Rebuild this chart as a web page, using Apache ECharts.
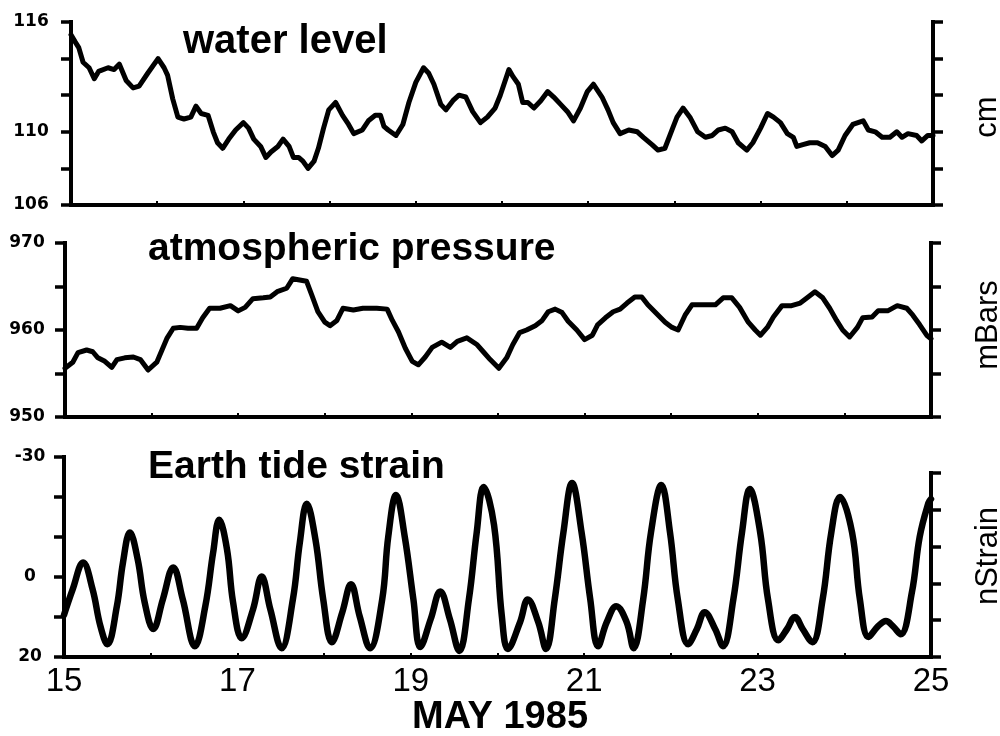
<!DOCTYPE html>
<html>
<head>
<meta charset="utf-8">
<script src="https://cdn.jsdelivr.net/npm/echarts@6/dist/echarts.min.js"></script>
<style>
html,body{margin:0;padding:0;background:#fff;}
#chart{width:1000px;height:736px;}
</style>
</head>
<body>
<div id="chart"></div>
<script>
// ---- data (day of May 1985, value) ----
const waterDays = [15.00,15.05,15.09,15.14,15.21,15.27,15.32,15.43,15.50,15.56,
15.64,15.72,15.79,15.89,16.01,16.08,16.12,16.18,16.24,16.31,
16.39,16.45,16.51,16.59,16.65,16.70,16.76,16.83,16.91,17.00,
17.06,17.12,17.20,17.26,17.32,17.40,17.46,17.53,17.58,17.64,
17.69,17.75,17.82,17.87,17.93,17.99,18.07,18.15,18.22,18.28,
18.38,18.45,18.53,18.59,18.63,18.68,18.77,18.85,18.92,19.00,
19.09,19.15,19.21,19.29,19.35,19.43,19.50,19.58,19.66,19.75,
19.83,19.92,19.98,20.08,20.13,20.19,20.24,20.30,20.37,20.45,
20.53,20.60,20.68,20.76,20.83,20.91,20.99,21.06,21.16,21.23,
21.29,21.37,21.47,21.57,21.64,21.74,21.81,21.89,21.98,22.03,
22.10,22.18,22.27,22.36,22.44,22.51,22.59,22.67,22.74,22.84,
22.91,23.00,23.08,23.15,23.23,23.31,23.38,23.42,23.49,23.57,
23.66,23.75,23.83,23.90,23.98,24.07,24.19,24.25,24.33,24.41,
24.50,24.58,24.64,24.71,24.81,24.87,24.94,25.00];
const waterLevel = [115.3,114.9,114.6,113.8,113.5,112.9,113.3,113.5,113.4,113.7,
112.8,112.4,112.5,113.2,114.0,113.5,113.1,111.8,110.8,110.7,
110.8,111.4,111.0,110.9,110.0,109.4,109.1,109.6,110.1,110.5,
110.2,109.6,109.2,108.6,108.9,109.2,109.6,109.2,108.6,108.6,
108.4,108.0,108.4,109.1,110.2,111.2,111.6,110.9,110.4,109.9,
110.1,110.6,110.9,110.9,110.3,110.1,109.8,110.4,111.6,112.7,
113.5,113.2,112.6,111.5,111.2,111.7,112.0,111.9,111.1,110.5,
110.8,111.3,112.0,113.4,113.0,112.6,111.6,111.6,111.3,111.7,
112.2,111.9,111.5,111.1,110.6,111.3,112.2,112.6,111.9,111.2,
110.5,109.9,110.1,110.0,109.7,109.3,109.0,109.1,110.2,110.8,
111.3,110.8,110.0,109.7,109.8,110.1,110.2,110.0,109.4,109.0,
109.4,110.2,111.0,110.8,110.5,109.9,109.7,109.2,109.3,109.4,
109.4,109.2,108.7,109.0,109.8,110.4,110.6,110.1,110.0,109.7,
109.7,110.0,109.7,109.9,109.8,109.5,109.8,109.8];

const pressureDays = [15.00,15.09,15.15,15.25,15.32,15.38,15.46,15.54,15.60,15.69,
15.79,15.87,15.96,16.06,16.12,16.18,16.25,16.33,16.42,16.52,
16.59,16.67,16.79,16.91,17.00,17.08,17.17,17.29,17.37,17.45,
17.56,17.63,17.79,17.85,17.92,18.00,18.06,18.14,18.21,18.33,
18.44,18.60,18.72,18.78,18.85,18.93,19.01,19.08,19.16,19.24,
19.35,19.45,19.53,19.64,19.76,19.83,19.91,20.01,20.10,20.17,
20.25,20.33,20.43,20.51,20.58,20.66,20.74,20.81,20.91,21.00,
21.09,21.15,21.24,21.33,21.41,21.49,21.58,21.66,21.73,21.85,
21.93,22.01,22.08,22.16,22.24,22.36,22.51,22.60,22.70,22.79,
22.89,22.97,23.03,23.11,23.18,23.28,23.39,23.49,23.57,23.66,
23.75,23.83,23.91,23.98,24.06,24.15,24.21,24.32,24.39,24.50,
24.61,24.72,24.79,24.87,24.95,25.00];
const pressure = [955.6,956.3,957.4,957.7,957.5,956.8,956.4,955.7,956.6,956.8,
956.9,956.6,955.4,956.3,957.7,959.1,960.2,960.3,960.2,960.2,
961.4,962.5,962.5,962.8,962.2,962.6,963.6,963.7,963.8,964.4,
964.8,965.9,965.6,964.0,962.1,960.9,960.5,961.1,962.5,962.3,
962.5,962.5,962.4,961.1,959.8,957.9,956.4,956.0,956.9,958.0,
958.6,958.0,958.7,959.1,958.3,957.5,956.6,955.6,956.8,958.3,
959.7,960.0,960.5,961.1,962.1,962.4,962.0,961.0,960.0,958.9,
959.4,960.6,961.4,962.1,962.4,963.1,963.8,963.8,962.9,961.7,
960.9,960.3,960.0,961.7,962.9,962.9,962.9,963.7,963.7,962.6,
960.9,960.0,959.4,960.3,961.5,962.8,962.8,963.1,963.7,964.4,
963.7,962.5,961.1,960.0,959.2,960.3,961.4,961.5,962.2,962.2,
962.8,962.5,961.7,960.6,959.4,959.0];

const strainDays = [15.00,15.10,15.22,15.33,15.42,15.50,15.61,15.68,15.76,15.85,
15.93,16.03,16.14,16.26,16.37,16.51,16.63,16.72,16.79,16.88,
16.95,17.05,17.18,17.28,17.38,17.51,17.64,17.72,17.80,17.90,
17.99,18.09,18.21,18.31,18.41,18.53,18.67,18.74,18.83,18.93,
19.03,19.11,19.23,19.34,19.45,19.56,19.67,19.76,19.84,19.96,
20.05,20.12,20.26,20.35,20.47,20.56,20.66,20.76,20.86,20.97,
21.07,21.16,21.26,21.37,21.49,21.57,21.68,21.77,21.89,21.99,
22.08,22.20,22.30,22.39,22.51,22.60,22.72,22.82,22.91,23.03,
23.12,23.24,23.34,23.43,23.52,23.63,23.75,23.85,23.95,24.09,
24.18,24.28,24.39,24.48,24.56,24.65,24.78,24.87,24.97,25.00];
const strain = [9.5,3.1,-3.6,3.1,12.3,16.8,7.3,-3.6,-11.1,-4.4,
6.3,13.0,5.6,-2.4,5.6,17.3,7.3,-6.1,-14.3,-6.9,
6.3,15.3,8.1,-0.1,8.1,17.8,5.6,-8.6,-18.3,-9.4,
5.6,16.3,8.8,1.8,9.8,17.8,5.6,-10.1,-20.5,-10.1,
5.6,17.5,10.5,3.6,10.5,18.5,5.6,-11.1,-22.5,-13.0,
9.8,18.0,11.3,5.6,11.3,18.0,5.6,-11.1,-23.5,-11.1,
5.6,17.3,11.3,7.3,11.3,17.8,5.6,-11.1,-23.0,-11.1,
5.6,16.8,13.0,8.8,13.0,17.3,5.6,-11.1,-22.0,-11.1,
5.6,15.8,13.0,10.0,13.0,16.3,5.6,-11.1,-20.0,-11.1,
5.6,15.0,12.3,11.0,12.3,14.3,3.8,-10.1,-18.5,-19.5];

const dayTicks = [15,17,19,21,23,25];
const waterLabels = [116,110,106];
const pressureLabels = [970,960,950];
const strainLabels = [-30,0,20];

const zip = (a, b) => a.map((d, i) => [d, b[i]]);
const FONT = '"Liberation Sans", Arial, Helvetica, sans-serif';

function xAxis(gi, showLabels) {
  return {
    type: 'value', gridIndex: gi, min: 15, max: 25, interval: 1,
    axisLine: { onZero: false, lineStyle: { color: '#000', width: 4, cap: 'square' } },
    axisTick: { show: true, inside: true, length: 4, lineStyle: { color: '#000', width: 2 } },
    splitLine: { show: false },
    axisLabel: {
      show: showLabels, margin: 8, color: '#000', fontSize: 33, fontFamily: FONT,
      formatter: v => dayTicks.indexOf(v) >= 0 ? String(v) : ''
    }
  };
}
function yAxisLeft(gi, min, max, interval, labels, margin, inverse) {
  return {
    type: 'value', gridIndex: gi, min: min, max: max, interval: interval, inverse: !!inverse,
    position: 'left',
    axisLine: { show: true, onZero: false, lineStyle: { color: '#000', width: 4, cap: 'square' } },
    axisTick: { show: true, inside: false, length: 10, lineStyle: { color: '#000', width: 3.5 } },
    splitLine: { show: false },
    axisLabel: {
      show: true, margin: margin, align: 'center', color: '#000', fontSize: 17, fontWeight: 'bold',
      fontFamily: '"DejaVu Sans", sans-serif',
      formatter: v => labels.indexOf(v) >= 0 ? String(v) : ''
    }
  };
}
function yAxisRight(gi, min, max, interval) {
  return {
    type: 'value', gridIndex: gi, min: min, max: max, interval: interval,
    position: 'right',
    axisLine: { show: true, onZero: false, lineStyle: { color: '#000', width: 4, cap: 'square' } },
    axisTick: { show: true, inside: false, length: 10, lineStyle: { color: '#000', width: 3.5 } },
    splitLine: { show: false },
    axisLabel: { show: false }
  };
}

const chart = echarts.init(document.getElementById('chart'), null, { renderer: 'canvas' });
const option = {
  animation: false,
  backgroundColor: '#fff',
  grid: [
    { left: 71, top: 22, width: 862, height: 183 },
    { left: 65, top: 243, width: 866, height: 174 },
    { left: 64, top: 457, width: 867, height: 200 },
    { left: 64, top: 473, width: 867, height: 184 }
  ],
  xAxis: [
    xAxis(0, false),
    xAxis(1, false),
    xAxis(2, true),
    Object.assign(xAxis(3, false), { show: false })
  ],
  yAxis: [
    yAxisLeft(0, 106, 116, 2, waterLabels, 40),
    yAxisRight(0, 106, 116, 2),
    yAxisLeft(1, 950, 970, 5, pressureLabels, 38),
    yAxisRight(1, 950, 970, 5),
    yAxisLeft(2, -30, 20, 10, strainLabels, 34, true),
    yAxisRight(3, 0, 5, 1)
  ],
  series: [
    { type: 'line', xAxisIndex: 0, yAxisIndex: 0, data: zip(waterDays, waterLevel), showSymbol: false, symbol: 'none',
      lineStyle: { color: '#000', width: 5, join: 'round', cap: 'round' } },
    { type: 'line', xAxisIndex: 1, yAxisIndex: 2, data: zip(pressureDays, pressure), showSymbol: false, symbol: 'none',
      lineStyle: { color: '#000', width: 5, join: 'round', cap: 'round' } },
    { type: 'line', xAxisIndex: 2, yAxisIndex: 4, data: zip(strainDays, strain), showSymbol: false, symbol: 'none',
      smooth: 0.4, lineStyle: { color: '#000', width: 6.5, join: 'round', cap: 'round' } }
  ],
  graphic: [
    { type: 'text', x: 183, y: 42, style: { text: 'water level', font: 'bold 40px ' + FONT, fill: '#000', align: 'left', verticalAlign: 'middle' } },
    { type: 'text', x: 148, y: 249, style: { text: 'atmospheric pressure', font: 'bold 39px ' + FONT, fill: '#000', align: 'left', verticalAlign: 'middle' } },
    { type: 'text', x: 148, y: 467, style: { text: 'Earth tide strain', font: 'bold 39px ' + FONT, fill: '#000', align: 'left', verticalAlign: 'middle' } },
    { type: 'text', x: 987, y: 117, rotation: Math.PI / 2, style: { text: 'cm', font: '31px ' + FONT, fill: '#000', align: 'center', verticalAlign: 'middle' } },
    { type: 'text', x: 988, y: 325, rotation: Math.PI / 2, style: { text: 'mBars', font: '31px ' + FONT, fill: '#000', align: 'center', verticalAlign: 'middle' } },
    { type: 'text', x: 988, y: 556, rotation: Math.PI / 2, style: { text: 'nStrain', font: '31px ' + FONT, fill: '#000', align: 'center', verticalAlign: 'middle' } },
    { type: 'text', x: 500, y: 718, style: { text: 'MAY 1985', font: 'bold 38px ' + FONT, fill: '#000', align: 'center', verticalAlign: 'middle' } }
  ]
};
chart.setOption(option);
</script>
</body>
</html>
